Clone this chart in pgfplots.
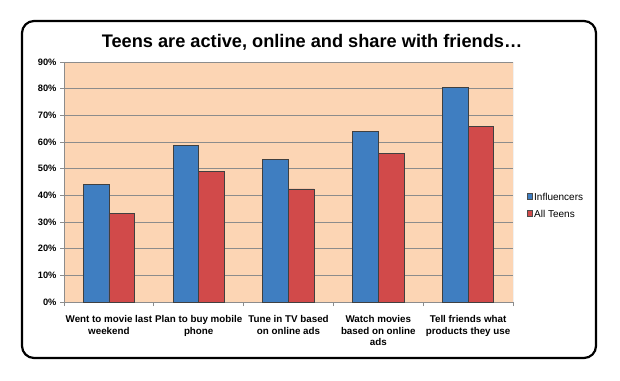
\documentclass[border=0pt]{standalone}
\usepackage{fontspec}
\setmainfont{Liberation Sans}
\usepackage{pgfplots}
\pgfplotsset{compat=1.18}
\definecolor{peach}{HTML}{FCD5B4}
\definecolor{infl}{HTML}{3F7EC1}
\definecolor{allt}{HTML}{D14A4A}
\definecolor{gridc}{HTML}{8C8C8C}
\begin{document}
\begin{tikzpicture}
\path (0,0) rectangle (620pt,380pt);
\draw[line width=2.2pt, rounded corners=12pt] (22pt,22pt) rectangle (596pt,359pt);
\node[font=\fontsize{18.2}{21}\selectfont\bfseries] at (312pt,338pt) {Teens are active, online and share with friends…};
\begin{axis}[
  at={(64pt,78pt)}, anchor=south west,
  scale only axis, width=449pt, height=240pt,
  ybar=0pt, bar width=0.286,
  xmin=-0.5, xmax=4.5, ymin=0, ymax=90,
  xtick={0,1,2,3,4},
  xticklabels={{Went to movie last\\weekend},{Plan to buy mobile\\phone},{Tune in TV based\\on online ads},{Watch movies\\based on online\\ads},{Tell friends what\\products they use}},
  x tick label style={font=\fontsize{9.8}{11.5}\selectfont\bfseries, align=center, yshift=-6pt},
  xtick style={draw=none},
  minor xtick={-0.5,0.5,1.5,2.5,3.5,4.5},
  minor x tick style={draw=gridc, line width=0.8pt},
  minor tick length=4pt,
  major tick length=4pt,
  tick align=outside,
  ytick={0,10,...,90},
  yticklabel={\pgfmathprintnumber{\tick}\%},
  y tick label style={font=\fontsize{9.3}{11}\selectfont\bfseries},
  ytick style={draw=gridc, line width=0.8pt},
  /pgf/number format/assume math mode=true,
  ymajorgrids,
  grid style={draw=gridc, line width=0.8pt},
  axis line style={draw=gridc, line width=0.8pt},
  axis x line*=bottom, axis y line*=left,
  axis background/.style={fill=peach},
  legend style={at={(1.03,0.4)}, anchor=west, draw=none, fill=none,
    font=\fontsize{10}{12}\selectfont, row sep=4pt, inner sep=0pt},
  legend cell align=left,
  legend image code/.code={\draw[#1, draw=black!70, line width=0.5pt] (0pt,-2pt) rectangle (5pt,4pt);},
]
\draw[draw=gridc, line width=0.8pt] (rel axis cs:0,1) -- (rel axis cs:1,1) -- (rel axis cs:1,0);
\addplot[fill=infl, draw=black!75, line width=0.8pt] coordinates {(0,44.2) (1,58.8) (2,53.5) (3,63.8) (4,80.6)};
\addplot[fill=allt, draw=black!75, line width=0.8pt] coordinates {(0,33.1) (1,49.0) (2,42.4) (3,55.8) (4,65.8)};
\legend{Influencers, All Teens}
\end{axis}
\end{tikzpicture}
\end{document}
